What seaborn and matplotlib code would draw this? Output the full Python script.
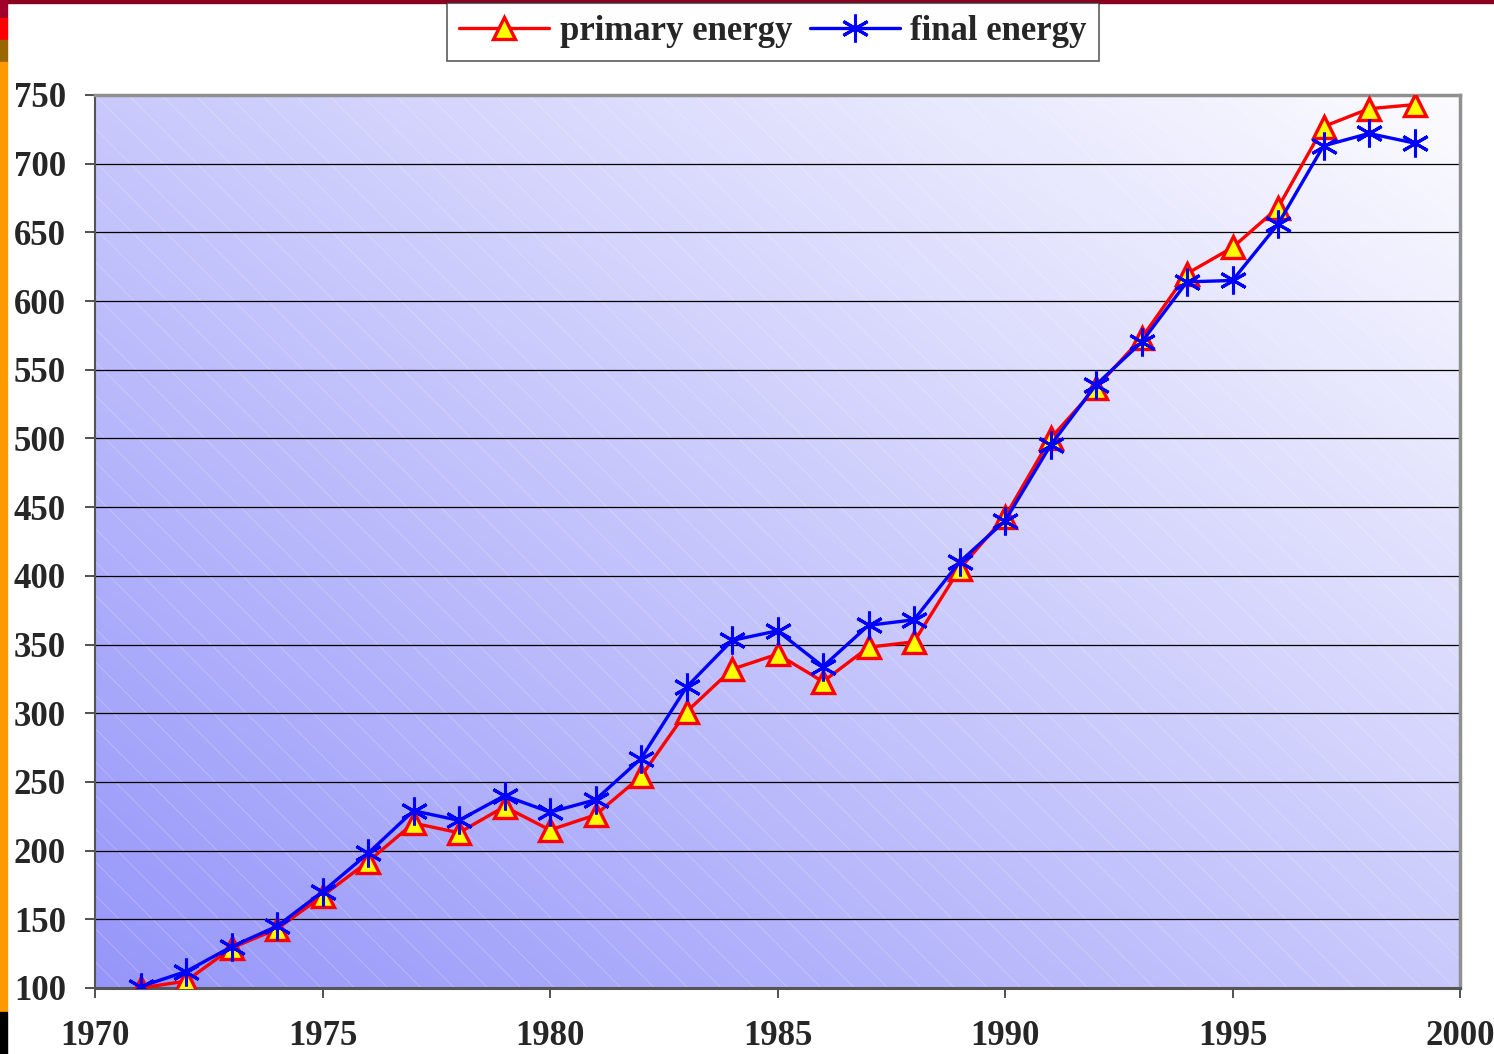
import numpy as np
import pandas as pd
import seaborn as sns
from matplotlib import pyplot as plt
from matplotlib.patches import Rectangle
from matplotlib.lines import Line2D

years = list(range(1971, 2000))
primary_energy = [100, 105, 129, 143, 167, 192, 220, 213, 232, 215, 226, 254, 301, 332, 343, 323,
                  348, 352, 405, 443, 500, 537, 573, 620, 639, 668, 727, 740, 743]
final_energy = [101, 112, 130, 145, 170, 198, 229, 222, 240, 228, 237, 267, 319, 353, 360, 334,
                364, 368, 410, 440, 495, 539, 570, 614, 615, 656, 713, 722, 715]
x_ticks = list(range(1970, 2001, 5))
y_ticks = list(range(100, 751, 50))

df = pd.DataFrame({"year": years, "primary energy": primary_energy, "final energy": final_energy})

sns.set_style("white")
plt.rcParams['font.family'] = ['Liberation Serif', 'DejaVu Serif']
plt.rcParams['hatch.linewidth'] = 0.5

fig = plt.figure(figsize=(14.94, 10.54), dpi=100)
ax = fig.add_axes([95 / 1494, 1 - 988 / 1054, (1460 - 95) / 1494, (988 - 95) / 1054])

# gradient background
u, v = np.meshgrid(np.linspace(0, 1, 300), np.linspace(0, 1, 300))
s = (u + v) / 2
c0 = np.array([150, 150, 250]) / 255
c1 = np.array([252, 252, 255]) / 255
img = c0[None, None, :] * (1 - s[..., None]) + c1[None, None, :] * s[..., None]
ax.imshow(img, extent=[0, 1, 0, 1], origin='lower', transform=ax.transAxes, aspect='auto', zorder=0)
ax.add_patch(Rectangle((0, 0), 1, 1, transform=ax.transAxes, facecolor='none',
                       edgecolor=(1, 1, 1, 0.3), hatch='\\', lw=0, zorder=0.5))

ax.grid(axis='y', color='black', lw=0.9, zorder=1)
ax.set_axisbelow(True)

sns.lineplot(data=df, x="year", y="primary energy", ax=ax, color='#ff0000', lw=2.4,
             marker='^', markersize=16, markerfacecolor='#ffff00', markeredgecolor='#ff0000',
             markeredgewidth=2.4, zorder=3)
sns.lineplot(data=df, x="year", y="final energy", ax=ax, color='#0000ff', lw=2.4,
             marker=(6, 2, 0), markersize=20, markeredgecolor='#0000ff',
             markeredgewidth=2.2, zorder=4)

ax.set_xlim(1970, 2000)
ax.set_ylim(100, 750)
ax.set_xticks(x_ticks)
ax.set_yticks(y_ticks)
ax.set_xlabel('')
ax.set_ylabel('')
ax.tick_params(axis='both', which='major', direction='out', length=7, width=1.2, color='#333333',
               labelsize=25, left=True, bottom=True)
ax.tick_params(axis='y', pad=14)
ax.tick_params(axis='x', pad=16)
for lab in ax.get_xticklabels() + ax.get_yticklabels():
    lab.set_fontweight('bold')

ax.spines['left'].set_color('#555555')
ax.spines['left'].set_linewidth(1.5)
ax.spines['bottom'].set_color('#555555')
ax.spines['bottom'].set_linewidth(2.2)
ax.spines['top'].set_color('#909090')
ax.spines['top'].set_linewidth(2.5)
ax.spines['right'].set_color('#909090')
ax.spines['right'].set_linewidth(2.5)

handles = [Line2D([], [], color='#ff0000', lw=2.4, marker='^', markersize=16, markerfacecolor='#ffff00',
                  markeredgecolor='#ff0000', markeredgewidth=2.4),
           Line2D([], [], color='#0000ff', lw=2.4, marker=(6, 2, 0), markersize=20,
                  markeredgecolor='#0000ff', markeredgewidth=2.2)]
leg = fig.legend(handles, ['primary energy', 'final energy'], loc='center', ncol=2,
                 bbox_to_anchor=(773 / 1494, 1 - 32 / 1054), frameon=True, fancybox=False,
                 prop={'size': 25, 'weight': 'bold'}, handlelength=2.6, columnspacing=0.5,
                 handletextpad=0.3, borderpad=0.35)
leg.get_frame().set_edgecolor('#333333')
leg.get_frame().set_linewidth(1.2)

# slide decorations
fig.patches.append(Rectangle((0, 1 - 3 / 1054), 1, 3 / 1054, transform=fig.transFigure,
                             color='#8b0020', zorder=5))
strip = [(0, 18, '#a0002a'), (18, 40, '#ff0000'), (40, 62, '#996600'), (62, 1012, '#ff9900'),
         (1012, 1054, '#000000')]
for y0, y1, col in strip:
    fig.patches.append(Rectangle((0, 1 - y1 / 1054), 7 / 1494, (y1 - y0) / 1054,
                                 transform=fig.transFigure, color=col, zorder=5))

fig.savefig('out.png', dpi=100)
